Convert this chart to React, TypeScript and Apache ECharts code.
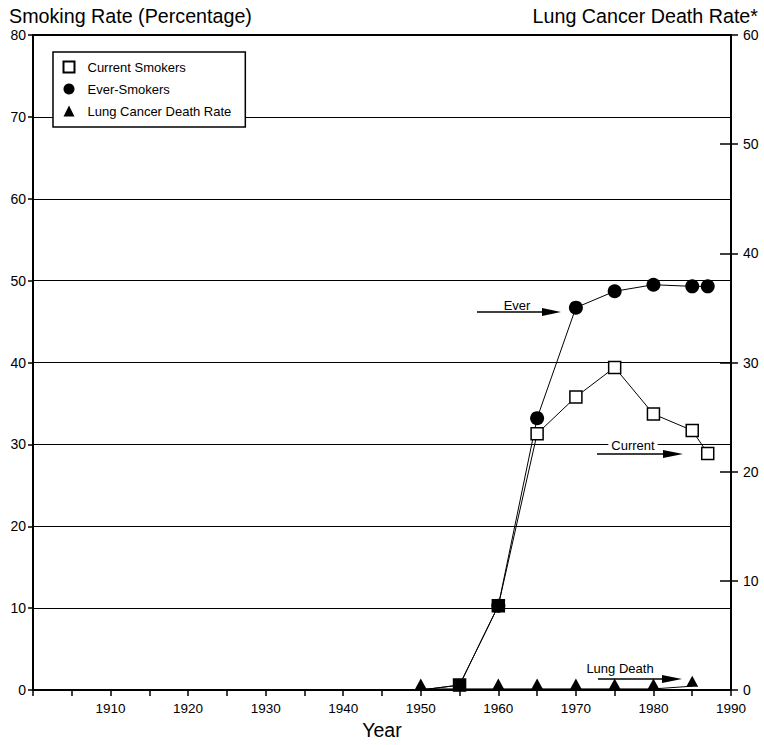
import React, { useEffect, useRef } from "react";
import * as echarts from "echarts";

const years = [1950, 1955, 1960, 1965, 1970, 1975, 1980, 1985, 1987];
const currentSmokers = [0, 0.6, 10.3, 31.3, 35.8, 39.4, 33.7, 31.7, 28.9];
const everSmokers = [0, 0.6, 10.3, 33.2, 46.7, 48.7, 49.5, 49.3, 49.3];
const lungYears = [1950, 1955, 1960, 1965, 1970, 1975, 1980, 1985];
const lungDeathRate = [0.1, 0.1, 0.1, 0.1, 0.1, 0.1, 0.1, 0.35];
const leftTicks = { min: 0, max: 80, interval: 10 };
const rightTicks = { min: 0, max: 60, interval: 10 };
const xTicks = { min: 1900, max: 1990, interval: 5 };

const FONT = "'Liberation Sans', Arial, Helvetica, sans-serif";

function arrow(x1: number, x2: number, y: number, headLen: number) {
  return [
    {
      type: "line",
      shape: { x1, y1: y, x2: x2 - headLen + 2, y2: y },
      style: { stroke: "#000", lineWidth: 1.3 },
    },
    {
      type: "polygon",
      shape: {
        points: [
          [x2 - headLen, y - 4],
          [x2, y],
          [x2 - headLen, y + 4],
        ],
      },
      style: { fill: "#000" },
    },
  ];
}

export default function App() {
  const ref = useRef<HTMLDivElement>(null);
  useEffect(() => {
    if (!ref.current) return;
    const chart = echarts.init(ref.current, null, { renderer: "svg" });
    const currentData = years.map((y, i) => {
      const item: any = { value: [y, currentSmokers[i]] };
      if (y === 1950) item.symbol = "none";
      if (y === 1955 || y === 1960) item.itemStyle = { color: "#000" };
      return item;
    });
    const everData = years.map((y, i) => {
      const item: any = { value: [y, everSmokers[i]] };
      if (y === 1950 || y === 1955) item.symbol = "none";
      return item;
    });
    const lungData = lungYears.map((y, i) => [y, lungDeathRate[i]]);

    const labelStyle = { color: "#000", fontFamily: FONT, fontSize: 14 };

    chart.setOption({
      animation: false,
      textStyle: { fontFamily: FONT },
      grid: {
        left: 33,
        right: 33,
        top: 35,
        bottom: 52,
        show: true,
        borderColor: "#000",
        borderWidth: 2,
        backgroundColor: "transparent",
      },
      legend: {
        orient: "vertical",
        left: 53,
        top: 52,
        selectedMode: false,
        backgroundColor: "#fff",
        borderColor: "#000",
        borderWidth: 1.5,
        borderRadius: 0,
        padding: [8, 14, 9, 9.5],
        itemWidth: 11,
        itemHeight: 11,
        itemGap: 8,
        textStyle: {
          color: "#000",
          fontFamily: FONT,
          fontSize: 13,
          lineHeight: 14,
          padding: [0, 0, 0, 8],
        },
        data: [
          {
            name: "Current Smokers",
            icon: "rect",
            itemStyle: { color: "#fff", borderColor: "#000", borderWidth: 2 },
          },
          { name: "Ever-Smokers", icon: "circle", itemStyle: { color: "#000" } },
          { name: "Lung Cancer Death Rate", icon: "triangle", itemStyle: { color: "#000" } },
        ],
      },
      xAxis: {
        type: "value",
        min: xTicks.min,
        max: xTicks.max,
        interval: xTicks.interval,
        name: "Year",
        nameLocation: "middle",
        nameGap: 30,
        nameTextStyle: { color: "#000", fontFamily: FONT, fontSize: 19.5 },
        axisLine: { show: true, onZero: false, lineStyle: { color: "#000", width: 2 } },
        axisTick: { show: true, length: 6, lineStyle: { color: "#000", width: 1.5 } },
        axisLabel: {
          ...labelStyle,
          fontSize: 13.5,
          margin: 11,
          formatter: (v: number) => (v % 10 === 0 && v > xTicks.min ? String(v) : ""),
        },
        splitLine: { show: false },
      },
      yAxis: [
        {
          type: "value",
          position: "left",
          min: leftTicks.min,
          max: leftTicks.max,
          interval: leftTicks.interval,
          axisLine: { show: true, lineStyle: { color: "#000", width: 2 } },
          axisTick: { show: true, length: 5, lineStyle: { color: "#000", width: 1.5 } },
          axisLabel: { ...labelStyle, margin: 7 },
          splitLine: { show: true, lineStyle: { color: "#000", width: 1 } },
        },
        {
          type: "value",
          position: "right",
          min: rightTicks.min,
          max: rightTicks.max,
          interval: rightTicks.interval,
          axisLine: { show: true, lineStyle: { color: "#000", width: 2 } },
          axisTick: { show: true, length: 7, lineStyle: { color: "#000", width: 1.5 } },
          axisLabel: { ...labelStyle, margin: 12 },
          splitLine: { show: false },
        },
        {
          type: "value",
          position: "right",
          min: rightTicks.min,
          max: rightTicks.max,
          interval: rightTicks.interval,
          axisLine: { show: false },
          axisTick: { show: true, inside: true, length: 11, lineStyle: { color: "#000", width: 1.5 } },
          axisLabel: { show: false },
          splitLine: { show: false },
        },
      ],
      series: [
        {
          name: "Lung Cancer Death Rate",
          type: "line",
          yAxisIndex: 1,
          data: lungData,
          symbol: "triangle",
          symbolSize: [12, 11],
          symbolOffset: [0, -5],
          lineStyle: { color: "#000", width: 1 },
          itemStyle: { color: "#000" },
          z: 3,
        },
        {
          name: "Ever-Smokers",
          type: "line",
          data: everData,
          symbol: "circle",
          symbolSize: 14,
          lineStyle: { color: "#000", width: 1 },
          itemStyle: { color: "#000" },
          z: 4,
        },
        {
          name: "Current Smokers",
          type: "line",
          data: currentData,
          symbol: "rect",
          symbolSize: 12,
          lineStyle: { color: "#000", width: 1 },
          itemStyle: { color: "#fff", borderColor: "#000", borderWidth: 1.5 },
          z: 5,
        },
      ],
      graphic: [
        {
          type: "text",
          x: 9,
          y: 16,
          style: {
            text: "Smoking Rate (Percentage)",
            fontFamily: FONT,
            fontSize: 19.7,
            fill: "#000",
            align: "left",
            verticalAlign: "middle",
          },
        },
        {
          type: "text",
          x: 758,
          y: 16,
          style: {
            text: "Lung Cancer Death Rate*",
            fontFamily: FONT,
            fontSize: 19.7,
            fill: "#000",
            align: "right",
            verticalAlign: "middle",
          },
        },
        {
          type: "text",
          x: 517,
          y: 305,
          z: 10,
          style: {
            text: "Ever",
            fontFamily: FONT,
            fontSize: 13,
            fill: "#000",
            align: "center",
            verticalAlign: "middle",
          },
        },
        ...arrow(477, 561, 312, 19),
        {
          type: "text",
          x: 633,
          y: 445,
          z: 10,
          style: {
            text: "Current",
            fontFamily: FONT,
            fontSize: 13,
            fill: "#000",
            align: "center",
            verticalAlign: "middle",
            backgroundColor: "#fff",
            padding: [1, 3],
          },
        },
        ...arrow(597, 683, 454, 20),
        {
          type: "text",
          x: 620,
          y: 668,
          z: 10,
          style: {
            text: "Lung Death",
            fontFamily: FONT,
            fontSize: 13,
            fill: "#000",
            align: "center",
            verticalAlign: "middle",
          },
        },
        ...arrow(598, 682, 679, 20),
      ],
    });
    return () => chart.dispose();
  }, []);
  return (
    <div
      ref={ref}
      style={{ position: "fixed", left: 0, top: 0, width: 764, height: 745, background: "#fff" }}
    />
  );
}
